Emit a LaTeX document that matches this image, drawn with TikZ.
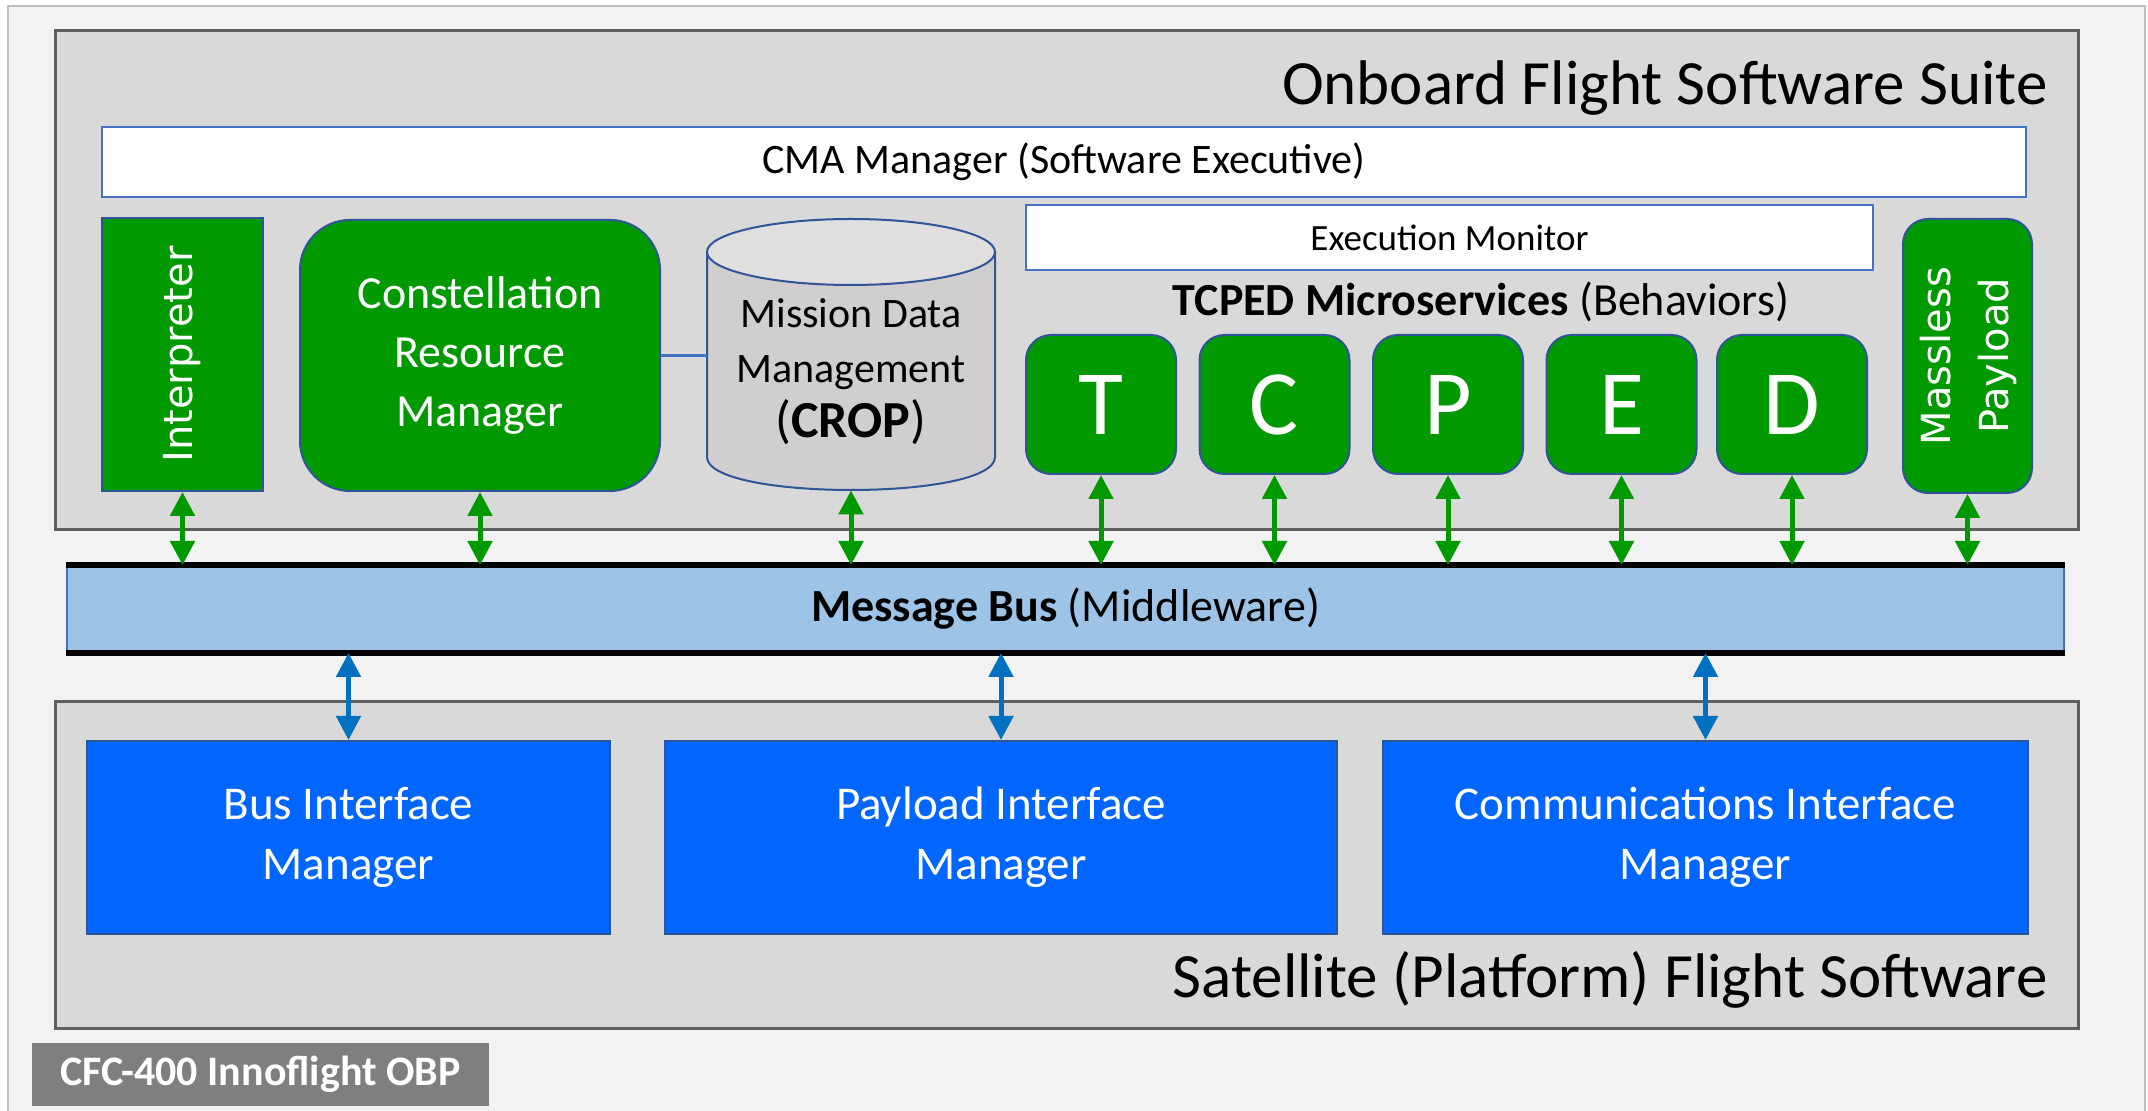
\documentclass[tikz,border=0pt]{standalone}
\usepackage{fontspec}
\setmainfont{Carlito}
\newfontfamily\vfont{DejaVu Sans}
\usetikzlibrary{arrows.meta}
\definecolor{framegray}{HTML}{BFBFBF}
\definecolor{bgc}{HTML}{F2F2F2}
\definecolor{panelc}{HTML}{D9D9D9}
\definecolor{panelb}{HTML}{5F5F5F}
\definecolor{ggreen}{HTML}{009900}
\definecolor{gborder}{HTML}{2F5597}
\definecolor{wborder}{HTML}{4472C4}
\definecolor{busblue}{HTML}{9DC3E6}
\definecolor{bblue}{HTML}{0066FF}
\definecolor{barrowc}{HTML}{0070C0}
\definecolor{cfcgray}{HTML}{7F7F7F}
\definecolor{cylbody}{HTML}{D0CECE}
\definecolor{cyltop}{HTML}{E0DEDE}
\tikzset{
  panel/.style={draw=panelb, line width=1.5pt, fill=panelc, inner sep=0pt},
  wbox/.style={draw=wborder, line width=1pt, fill=white, inner sep=0pt},
  gbox/.style={draw=gborder, line width=1pt, fill=ggreen, text=white, inner sep=0pt, align=center},
  letterbox/.style={gbox, rounded corners=12.5pt, minimum width=75pt, minimum height=69.5pt, font=\fontsize{46}{50}\selectfont},
  bluebox/.style={draw=gborder, line width=1pt, fill=bblue, text=white, inner sep=0pt, align=center, minimum height=96.5pt, font=\fontsize{23.5}{30}\selectfont},
  garrow/.style={draw=ggreen, line width=2.5pt, {Triangle[length=12pt,width=12pt]}-{Triangle[length=12pt,width=12pt]}},
  barrow/.style={draw=barrowc, line width=2.5pt, {Triangle[length=12pt,width=12pt]}-{Triangle[length=12pt,width=12pt]}},
  titletext/.style={anchor=base east, inner sep=0pt, font=\fontsize{31.5}{36}\selectfont}
}
\begin{document}
\begin{tikzpicture}[x=0.5pt,y=-0.5pt]
\useasboundingbox (0,0) rectangle (2148,1111);
\fill[white] (0,0) rectangle (2148,1111);
\draw[draw=framegray, fill=bgc, line width=1pt] (8,6) rectangle (2145,1130);

% Onboard panel
\node[panel, minimum width=1011.5pt, minimum height=249.5pt] (onboard) at (1066.5,280.5) {};
\node[titletext] (obtitle) at (2048,105) {Onboard Flight Software Suite};
\node[wbox, minimum width=962pt, minimum height=35pt, font=\fontsize{21}{25}\selectfont] (cma) at (1064,162) {CMA Manager (Software Executive)};
\node[wbox, minimum width=423.5pt, minimum height=32.5pt, font=\fontsize{18.5}{22}\selectfont] (exec) at (1449.5,237.5) {Execution Monitor};
\node[font=\fontsize{23}{27}\selectfont, inner sep=0pt] (tcped) at (1481,302) {\textbf{TCPED Microservices} (Behaviors)};

\node[gbox, minimum width=80.5pt, minimum height=136.5pt] (interp) at (182.5,354.5)
  {\rotatebox{90}{\vfont\fontsize{20}{24}\selectfont Interpreter}};
\node[gbox, rounded corners=25pt, minimum width=180pt, minimum height=135.5pt, font=\fontsize{23}{29.5}\selectfont] (crm) at (480,355.5)
  {Constellation\\Resource\\Manager};

% cylinder
\fill[cylbody] (707,252) -- (707,457) .. controls (707,501) and (995,501) .. (995,457) -- (995,252) -- cycle;
\draw[gborder, line width=1pt] (707,252) -- (707,457) .. controls (707,501) and (995,501) .. (995,457) -- (995,252);
\draw[gborder, fill=cyltop, line width=1pt] (851,252) ellipse [x radius=144, y radius=33];
\node[minimum width=144pt, minimum height=135.5pt, inner sep=0pt] (mdm) at (851,354.5) {};
\node[align=center, inner sep=0pt, font=\fontsize{21}{27.5}\selectfont] (mdmtext) at (851,372)
  {Mission Data\\Management\\{\fontsize{26}{30}\selectfont(\textbf{CROP})}};
\draw[wborder, line width=1.5pt] (crm.east) -- (crm.east -| mdm.west);

\node[letterbox] (T) at (1101,404.5) {T};
\node[letterbox] (C) at (1274.5,404.5) {C};
\node[letterbox] (P) at (1448,404.5) {P};
\node[letterbox] (E) at (1621.5,404.5) {E};
\node[letterbox] (D) at (1792,404.5) {D};
\node[gbox, rounded corners=12.5pt, minimum width=64.5pt, minimum height=137pt] (mp) at (1967.5,356)
  {\rotatebox{90}{\vfont\fontsize{20}{29}\selectfont\begin{tabular}{@{}c@{}}Massless\\Payload\end{tabular}}};

% Message bus
\node[draw=wborder, line width=1pt, fill=busblue, minimum width=998.5pt, minimum height=43pt, inner sep=0pt, font=\fontsize{23}{27}\selectfont] (bus) at (1065.5,609)
  {\textbf{Message Bus} (Middleware)};
\draw[line width=3pt] (bus.north west) -- (bus.north east);
\draw[line width=3pt] (bus.south west) -- (bus.south east);

% Satellite panel
\node[panel, minimum width=1011.5pt, minimum height=163pt] (sat) at (1066.5,865) {};
\node[titletext] (sattitle) at (2048,997) {Satellite (Platform) Flight Software};
\node[bluebox, minimum width=261.5pt] (bim) at (348.5,837.5) {Bus Interface\\Manager};
\node[bluebox, minimum width=336pt] (pim) at (1001,837.5) {Payload Interface\\Manager};
\node[bluebox, minimum width=322.5pt] (cim) at (1705.5,837.5) {Communications Interface\\Manager};

\node[fill=cfcgray, text=white, minimum width=228.5pt, minimum height=31.5pt, inner sep=0pt, font=\bfseries\fontsize{21}{25}\selectfont] (cfc) at (260.5,1074.5) {CFC-400 Innoflight OBP};

% arrows
\foreach \n in {interp,crm,mdm,T,C,P,E,D,mp}
  \draw[garrow] (\n.south) -- (\n.south |- bus.north);
\foreach \n in {bim,pim,cim}
  \draw[barrow] (\n.north) -- (\n.north |- bus.south);
\end{tikzpicture}
\end{document}
